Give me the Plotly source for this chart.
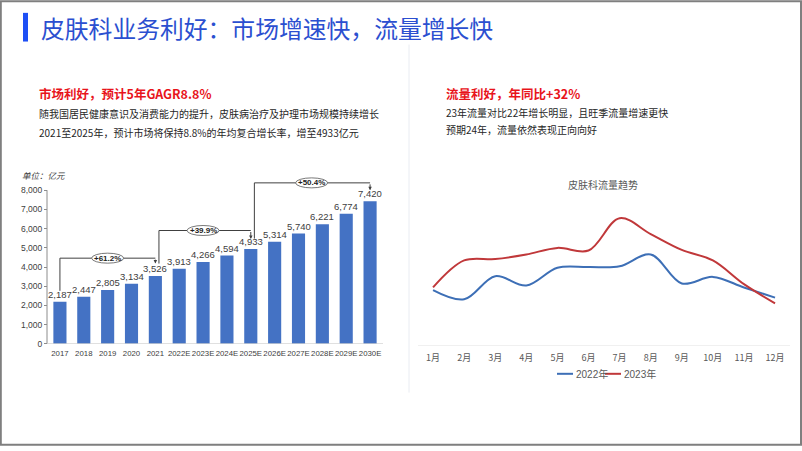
import plotly.graph_objects as go

W, H = 802, 451

# ---------------- data ----------------
years = ["2017", "2018", "2019", "2020", "2021", "2022E", "2023E", "2024E",
         "2025E", "2026E", "2027E", "2028E", "2029E", "2030E"]
market = [2187, 2447, 2805, 3134, 3526, 3913, 4266, 4594, 4933, 5314, 5740, 6221, 6774, 7420]
y_ticks = [0, 1000, 2000, 3000, 4000, 5000, 6000, 7000, 8000]

months = ["1月", "2月", "3月", "4月", "5月", "6月", "7月", "8月", "9月", "10月", "11月", "12月"]
traffic_2022 = [170, 142, 212, 184, 238, 240, 242, 278, 190, 210, 178, 147]
traffic_2023 = [178, 260, 264, 278, 298, 290, 388, 340, 292, 260, 188, 130]
series_names = ["2022年", "2023年"]
series_colors = ["#3D6FB6", "#C0383A"]

growth_labels = ["+61.2%", "+39.9%", "+50.4%"]

def px(x):
    return x / W

def py(y):
    return 1 - y / H

CJK = "Noto Sans CJK SC"
NUM = "Liberation Sans Narrow, Arial Narrow, Liberation Sans, Noto Sans CJK SC"

fig = go.Figure()

shapes = []
annotations = []

# ---------------- bar chart ----------------
xs_idx = list(range(len(years)))
fig.add_trace(go.Bar(
    x=xs_idx, y=market,
    marker=dict(color="#4472C4", line=dict(width=0)),
    width=0.55, showlegend=False, hoverinfo="skip",
    xaxis="x", yaxis="y",
))
for i, v in zip(xs_idx, market):
    annotations.append(dict(x=i, y=v, xref="x", yref="y", text=f"{v:,}",
                            showarrow=False, yanchor="bottom", xanchor="center",
                            yshift=0,
                            font=dict(size=9.5, color="#404040", family=NUM)))

# ---------------- line chart ----------------
for vals, name, col in zip([traffic_2022, traffic_2023], series_names, series_colors):
    fig.add_trace(go.Scatter(
        x=months, y=vals, mode="lines", name=name,
        line=dict(color=col, width=2, shape="spline", smoothing=1.0),
        xaxis="x2", yaxis="y2", showlegend=False, hoverinfo="skip",
    ))

# frame border
shapes.append(dict(type="rect", xref="paper", yref="paper",
                   x0=px(0.8), x1=px(801), y0=py(449.8), y1=py(1.2),
                   line=dict(color="#7F7F7F", width=2), fillcolor="rgba(0,0,0,0)"))
# separator
shapes.append(dict(type="line", xref="paper", yref="paper",
                   x0=px(409), x1=px(409), y0=py(45), y1=py(397),
                   line=dict(color="#E9ECF2", width=1)))
# title accent bar
shapes.append(dict(type="rect", xref="paper", yref="paper",
                   x0=px(23), x1=px(28), y0=py(42), y1=py(13),
                   line=dict(width=0), fillcolor="#1E4FF5"))

# y axis line of bar chart (0..8000)
shapes.append(dict(type="line", xref="paper", yref="y",
                   x0=px(47), x1=px(47), y0=0, y1=8000,
                   line=dict(color="#8C8C8C", width=1)))
# x baseline of bar chart
shapes.append(dict(type="line", xref="paper", yref="y",
                   x0=px(47), x1=px(383), y0=0, y1=0,
                   line=dict(color="#BFBFBF", width=1)))

# brackets: (x_start, y_start, y_top, x_end, y_arrow_end, label_x)
brackets = [
    (0.0, 2760, 4460, 4.0, 4180, 2.0),
    (4.15, 4180, 5900, 8.0, 5460, 6.0),
    (8.15, 5480, 8380, 13.0, 7990, 10.55),
]
bc = "#404040"
ellipses = []
for (xs, ys, yt, xe, ye, lx), lab in zip(brackets, growth_labels):
    shapes.append(dict(type="line", xref="x", yref="y", x0=xs, x1=xs, y0=ys, y1=yt,
                       line=dict(color=bc, width=1)))
    shapes.append(dict(type="line", xref="x", yref="y", x0=xs, x1=xe, y0=yt, y1=yt,
                       line=dict(color=bc, width=1)))
    annotations.append(dict(x=xe, y=ye, ax=xe, ay=yt, xref="x", yref="y",
                            axref="x", ayref="y", showarrow=True, text="",
                            arrowhead=2, arrowsize=0.7, arrowwidth=1, arrowcolor=bc))
    ellipses.append(dict(type="circle", xref="x", yref="y", layer="above",
                         xsizemode="pixel", ysizemode="pixel",
                         xanchor=lx, yanchor=yt, x0=-16, x1=16, y0=-5, y1=5,
                         fillcolor="#FFFFFF", line=dict(color="#555555", width=0.8)))
    annotations.append(dict(x=lx, y=yt, xref="x", yref="y", text=f"<b>{lab}</b>",
                            showarrow=False, font=dict(size=8, color="#222222", family=NUM)))
shapes.extend(ellipses)

# line chart x baseline
shapes.append(dict(type="line", xref="paper", yref="y2",
                   x0=px(418), x1=px(790), y0=0, y1=0,
                   line=dict(color="#D9D9D9", width=1)))

# ---------------- texts ----------------
def txt(x, y, s, size, color, family=CJK, xanchor="left"):
    annotations.append(dict(x=px(x), y=py(y), xref="paper", yref="paper", text=s,
                            showarrow=False, xanchor=xanchor, yanchor="middle",
                            font=dict(size=size, color=color, family=family)))

txt(39, 27.5, "皮肤科业务利好：市场增速快，流量增长快", 23.8, "#2B4FD0")

txt(37, 95, "<b>市场利好，预计5年GAGR8.8%</b>", 12.5, "#E8141B")
txt(37, 114.5, "随我国居民健康意识及消费能力的提升，皮肤病治疗及护理市场规模持续增长", 10, "#262626")
txt(37, 133.5, "2021至2025年，预计市场将保持8.8%的年均复合增长率，增至4933亿元", 10, "#262626")

txt(444, 95, "<b>流量利好，年同比+32%</b>", 12.5, "#E8141B")
txt(444, 113.5, "23年流量对比22年增长明显，且旺季流量增速更快", 10, "#262626")
txt(444, 131, "预期24年，流量依然表现正向向好", 10, "#262626")

txt(20, 177, "<i>单位：亿元</i>", 8.5, "#404040")
txt(603, 187, "皮肤科流量趋势", 10, "#595959", xanchor="center")

# custom legend
leg_x = [557, 605]
for lx0, name, col in zip(leg_x, series_names, series_colors):
    shapes.append(dict(type="line", xref="paper", yref="paper",
                       x0=px(lx0), x1=px(lx0 + 16), y0=py(378), y1=py(378),
                       line=dict(color=col, width=2)))
    txt(lx0 + 17, 378, name, 10, "#595959", family="Liberation Sans, Noto Sans CJK SC")

fig.update_layout(
    width=W, height=H,
    margin=dict(l=0, r=0, t=0, b=0),
    paper_bgcolor="white", plot_bgcolor="rgba(0,0,0,0)",
    font=dict(family=CJK),
    showlegend=False,
    xaxis=dict(domain=[px(48), px(382)], range=[-0.5, 13.5],
               tickmode="array", tickvals=xs_idx, ticktext=years,
               tickangle=0, showline=False, showgrid=False, zeroline=False,
               ticks="", ticklabelstandoff=3,
               tickfont=dict(size=7.8, color="#404040", family=NUM),
               fixedrange=True),
    yaxis=dict(domain=[py(347.7), py(178.7)], range=[0, 8700],
               tickmode="array", tickvals=y_ticks,
               ticktext=[f"{v:,}" for v in y_ticks],
               showline=False, showgrid=False, zeroline=False,
               ticks="outside", ticklen=3, tickcolor="#8C8C8C",
               tickfont=dict(size=8.5, color="#404040", family=NUM),
               fixedrange=True),
    xaxis2=dict(domain=[px(417.5), px(790.6)], range=[-0.5, 11.5],
                showline=False, showgrid=False, zeroline=False, ticks="",
                tickangle=0, ticklabelstandoff=5,
                tickfont=dict(size=9, color="#595959", family=CJK),
                anchor="y2", fixedrange=True),
    yaxis2=dict(domain=[py(350), py(200)], range=[0, 450], visible=False,
                anchor="x2", fixedrange=True),
    shapes=shapes,
    annotations=annotations,
    bargap=0.45,
)

fig.write_html(
    "out.html",
    config={"displayModeBar": False},
    post_script="document.body.style.margin='0';document.body.style.overflow='hidden';",
)
